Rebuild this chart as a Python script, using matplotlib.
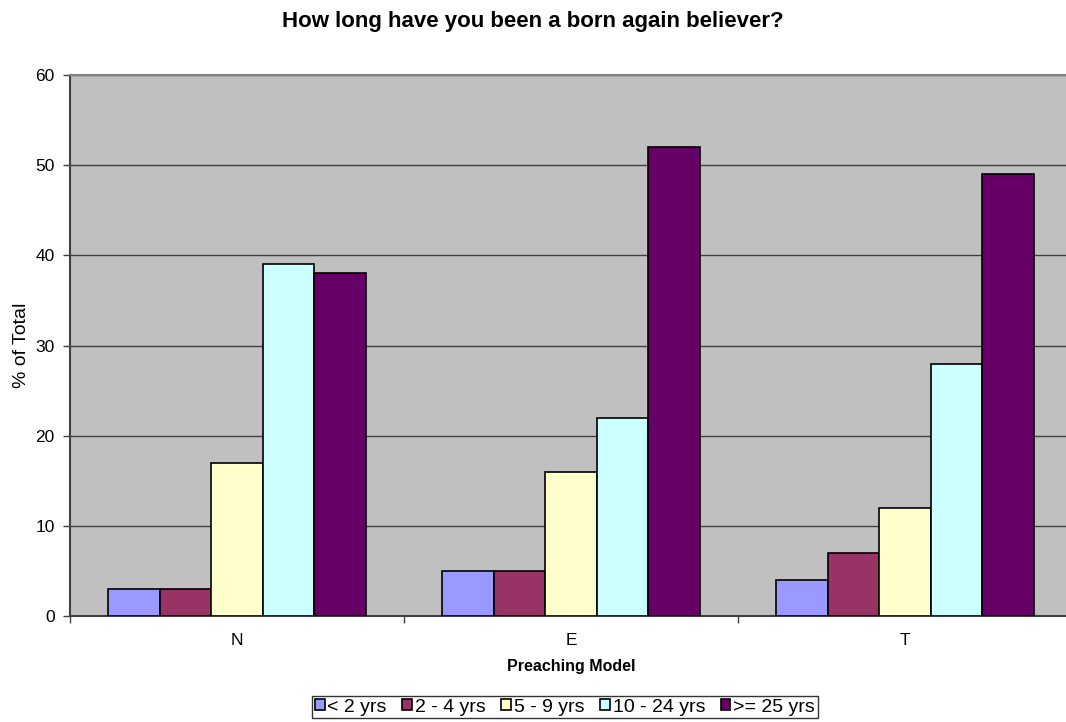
import numpy as np
import matplotlib.pyplot as plt

plt.rcParams['font.family'] = ['Liberation Sans', 'DejaVu Sans']

models = ['N', 'E', 'T']
series_names = ['< 2 yrs', '2 - 4 yrs', '5 - 9 yrs', '10 - 24 yrs', '>= 25 yrs']
lt_2 = [3, 5, 4]
yrs_2_4 = [3, 5, 7]
yrs_5_9 = [17, 16, 12]
yrs_10_24 = [39, 22, 28]
ge_25 = [38, 52, 49]
colors = ['#9999FF', '#993366', '#FFFFCC', '#CCFFFF', '#660066']

series = [lt_2, yrs_2_4, yrs_5_9, yrs_10_24, ge_25]

W, H = 1066, 722
fig = plt.figure(figsize=(W / 100, H / 100), dpi=100)
# plot area runs slightly past the right edge, like the original export
ax = fig.add_axes([70 / W, 106 / H, 1002 / W, 541 / H])
ax.set_facecolor('#C0C0C0')

x = np.arange(len(models))
bw = 0.1545
for i, (name, vals, c) in enumerate(zip(series_names, series, colors)):
    ax.bar(x + (i - 2) * bw, vals, bw, color=c, edgecolor='black',
           linewidth=1.2, label=name, zorder=3)

ax.set_xlim(-0.5, 2.5)
ax.set_ylim(0, 60)
ax.set_yticks(range(0, 61, 10))
ax.yaxis.grid(True, color='#404040', linewidth=1, zorder=1)
ax.set_axisbelow(True)

ax.set_xticks(x)
ax.set_xticklabels(models, fontsize=12.5)
ax.tick_params(axis='x', length=0, pad=12)
ax.set_xticks([-0.5, 0.5, 1.5, 2.5], minor=True)
ax.tick_params(axis='x', which='minor', length=5, width=1, color='#404040')
ax.tick_params(axis='y', length=5, width=1, color='#404040', labelsize=12.5, pad=6)

for side in ['top', 'right']:
    ax.spines[side].set_color('#808080')
for side in ['left', 'bottom']:
    ax.spines[side].set_color('#404040')
for s in ax.spines.values():
    s.set_linewidth(1.5)

ax.set_xlabel('Preaching Model', fontsize=11.5, fontweight='bold')
ax.xaxis.set_label_coords(571 / W, 1 - 667 / H, transform=fig.transFigure)
ax.xaxis.label.set_va('center')
ax.set_ylabel('% of Total', fontsize=14)
ax.yaxis.set_label_coords(22 / W, 1 - 345 / H, transform=fig.transFigure)
ax.yaxis.label.set_va('center')
fig.text(533 / W, 1 - 21 / H, 'How long have you been a born again believer?',
         ha='center', va='center', fontsize=16, fontweight='bold')

leg = ax.legend(loc='center right', bbox_to_anchor=(818 / W, 1 - 707 / H),
                bbox_transform=fig.transFigure, ncol=5, fontsize=14,
                frameon=True, fancybox=False, edgecolor='black',
                handlelength=0.5, handleheight=0.5, handletextpad=0.15,
                columnspacing=0.8, borderpad=0.15, borderaxespad=0)
leg.get_frame().set_linewidth(1)

fig.savefig('out.png', dpi=100)
